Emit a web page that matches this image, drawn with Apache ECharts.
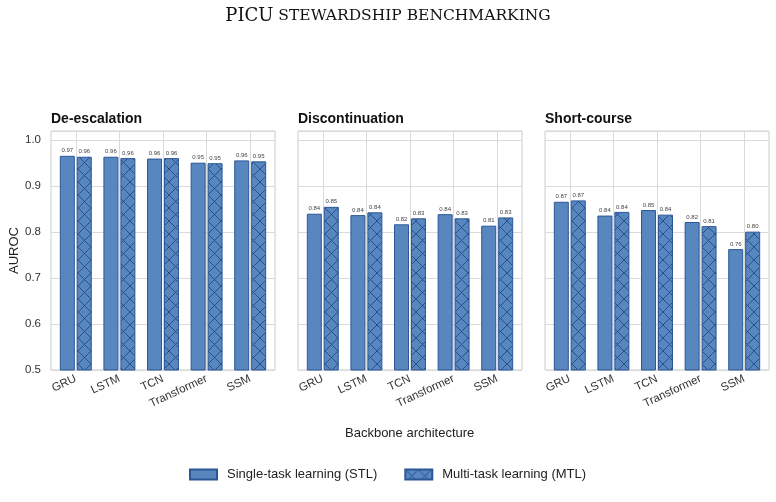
<!DOCTYPE html>
<html>
<head>
<meta charset="utf-8">
<script src="https://cdn.jsdelivr.net/npm/echarts@6/dist/echarts.min.js"></script>
<style>
	html, body { margin: 0; padding: 0; background: #fff; }
	#main { width: 776px; height: 502px; }
</style>
</head>
<body>
<div id="main"></div>
<script type="text/javascript">
// data
var backbones = ['GRU', 'LSTM', 'TCN', 'Transformer', 'SSM'];
var tasks = ['De-escalation', 'Discontinuation', 'Short-course'];
var yTicks = [0.5, 0.6, 0.7, 0.8, 0.9, 1.0];

var stlDeesc = [0.966, 0.964, 0.960, 0.951, 0.956];
var mtlDeesc = [0.964, 0.961, 0.961, 0.950, 0.954];
var stlDisc  = [0.840, 0.837, 0.817, 0.839, 0.814];
var mtlDisc  = [0.855, 0.843, 0.830, 0.830, 0.832];
var stlShort = [0.866, 0.836, 0.848, 0.822, 0.763];
var mtlShort = [0.869, 0.844, 0.838, 0.813, 0.801];

var stlName = 'Single-task learning (STL)';
var mtlName = 'Multi-task learning (MTL)';

var FONT = '"Liberation Sans", Arial, sans-serif';
var fill = '#5886be';
var edge = '#2b5797';

// cross hatch tile for the MTL bars
function hatchTile(){
	var s = 13;
	var c = document.createElement('canvas');
	c.width = s; c.height = s;
	var ctx = c.getContext('2d');
	ctx.fillStyle = fill;
	ctx.fillRect(0, 0, s, s);
	ctx.strokeStyle = '#24508f';
	ctx.lineWidth = 1;
	ctx.beginPath();
	ctx.moveTo(0, 0); ctx.lineTo(s, s);
	ctx.moveTo(s, 0); ctx.lineTo(0, s);
	ctx.stroke();
	return c;
}
var hatch = { image: hatchTile(), repeat: 'repeat' };

var stlAll = [stlDeesc, stlDisc, stlShort];
var mtlAll = [mtlDeesc, mtlDisc, mtlShort];

var grid = [], xAxis = [], yAxis = [], series = [], titles = [];

titles.push({
	left: 'center', top: 2,
	text: '{a|PICU}{b| STEWARDSHIP BENCHMARKING}',
	textStyle: {
		fontWeight: 'normal',
		rich: {
			a: { fontFamily: '"DejaVu Serif", serif', fontSize: 18, fontWeight: 'normal', color: '#111' },
			b: { fontFamily: '"DejaVu Serif", serif', fontSize: 15.5, fontWeight: 'normal', color: '#111' }
		}
	}
});

for (var i = 0; i < 3; i++) {
	var x0 = 51 + i * 247;
	// frame grid: spines + horizontal grid lines + y labels
	grid.push({ left: x0, top: 131, width: 224, height: 239, show: true,
		borderColor: '#cccccc', borderWidth: 1, backgroundColor: 'transparent' });
	xAxis.push({ gridIndex: i, type: 'value', min: 0, max: 1, show: false });
	yAxis.push({
		gridIndex: i, type: 'value', min: yTicks[0], max: 1.02, interval: 0.1,
		name: i === 0 ? 'AUROC' : '', nameLocation: 'middle', nameGap: 30,
		nameTextStyle: { fontFamily: FONT, fontSize: 13, color: '#222' },
		axisLine: { show: false }, axisTick: { show: false },
		axisLabel: { show: i === 0, showMaxLabel: false, margin: 10, fontFamily: FONT, fontSize: 11.5, color: '#333',
			formatter: function(v){ return v.toFixed(1); } },
		splitLine: { show: true, lineStyle: { color: '#dadada', width: 1 } }
	});
	titles.push({ left: x0 - 5, top: 107, text: tasks[i],
		textStyle: { fontFamily: FONT, fontSize: 14, fontWeight: 'bold', color: '#111' } });
}

for (var i = 0; i < 3; i++) {
	var gi = 3 + i;
	grid.push({ left: 54 + i * 247, top: 131, width: 218, height: 239 });
	xAxis.push({
		gridIndex: gi, type: 'category', data: backbones,
		axisLine: { show: false }, axisTick: { show: false },
		axisLabel: { interval: 0, rotate: 25, margin: 8, fontFamily: FONT, fontSize: 11.5, color: '#333' },
		splitLine: { show: true, interval: 0, alignWithLabel: true, lineStyle: { color: '#dadada', width: 1 } }
	});
	yAxis.push({ gridIndex: gi, type: 'value', min: yTicks[0], max: 1.02, show: false });

	var lbl = { show: true, position: 'top', distance: 2, fontFamily: FONT, fontSize: 6, color: '#444',
		formatter: function(p){ return p.value.toFixed(2); } };
	series.push({
		name: stlName, type: 'bar', xAxisIndex: gi, yAxisIndex: gi, data: stlAll[i],
		barWidth: 15, barGap: '13%',
		itemStyle: { color: fill, borderColor: edge, borderWidth: 1 },
		label: lbl
	});
	series.push({
		name: mtlName, type: 'bar', xAxisIndex: gi, yAxisIndex: gi, data: mtlAll[i],
		barWidth: 15, barGap: '13%',
		itemStyle: { color: hatch, borderColor: edge, borderWidth: 1 },
		label: lbl
	});
}

var myChart = echarts.init(document.getElementById('main'), null, { renderer: 'canvas' });
var option = {
	backgroundColor: '#ffffff',
	animation: false,
	title: titles,
	grid: grid,
	xAxis: xAxis,
	yAxis: yAxis,
	legend: {
		left: 189, top: 468, padding: 0, icon: 'rect', itemWidth: 27, itemHeight: 10, itemGap: 27,
		data: [stlName, mtlName],
		textStyle: { fontFamily: FONT, fontSize: 13, color: '#222', padding: [0, 0, 0, 5] }
	},
	graphic: [{
		type: 'text', left: 345, top: 427,
		style: { text: 'Backbone architecture', fontFamily: FONT, fontSize: 13, fill: '#222' }
	}],
	series: series
};
myChart.setOption(option);
</script>
</body>
</html>
